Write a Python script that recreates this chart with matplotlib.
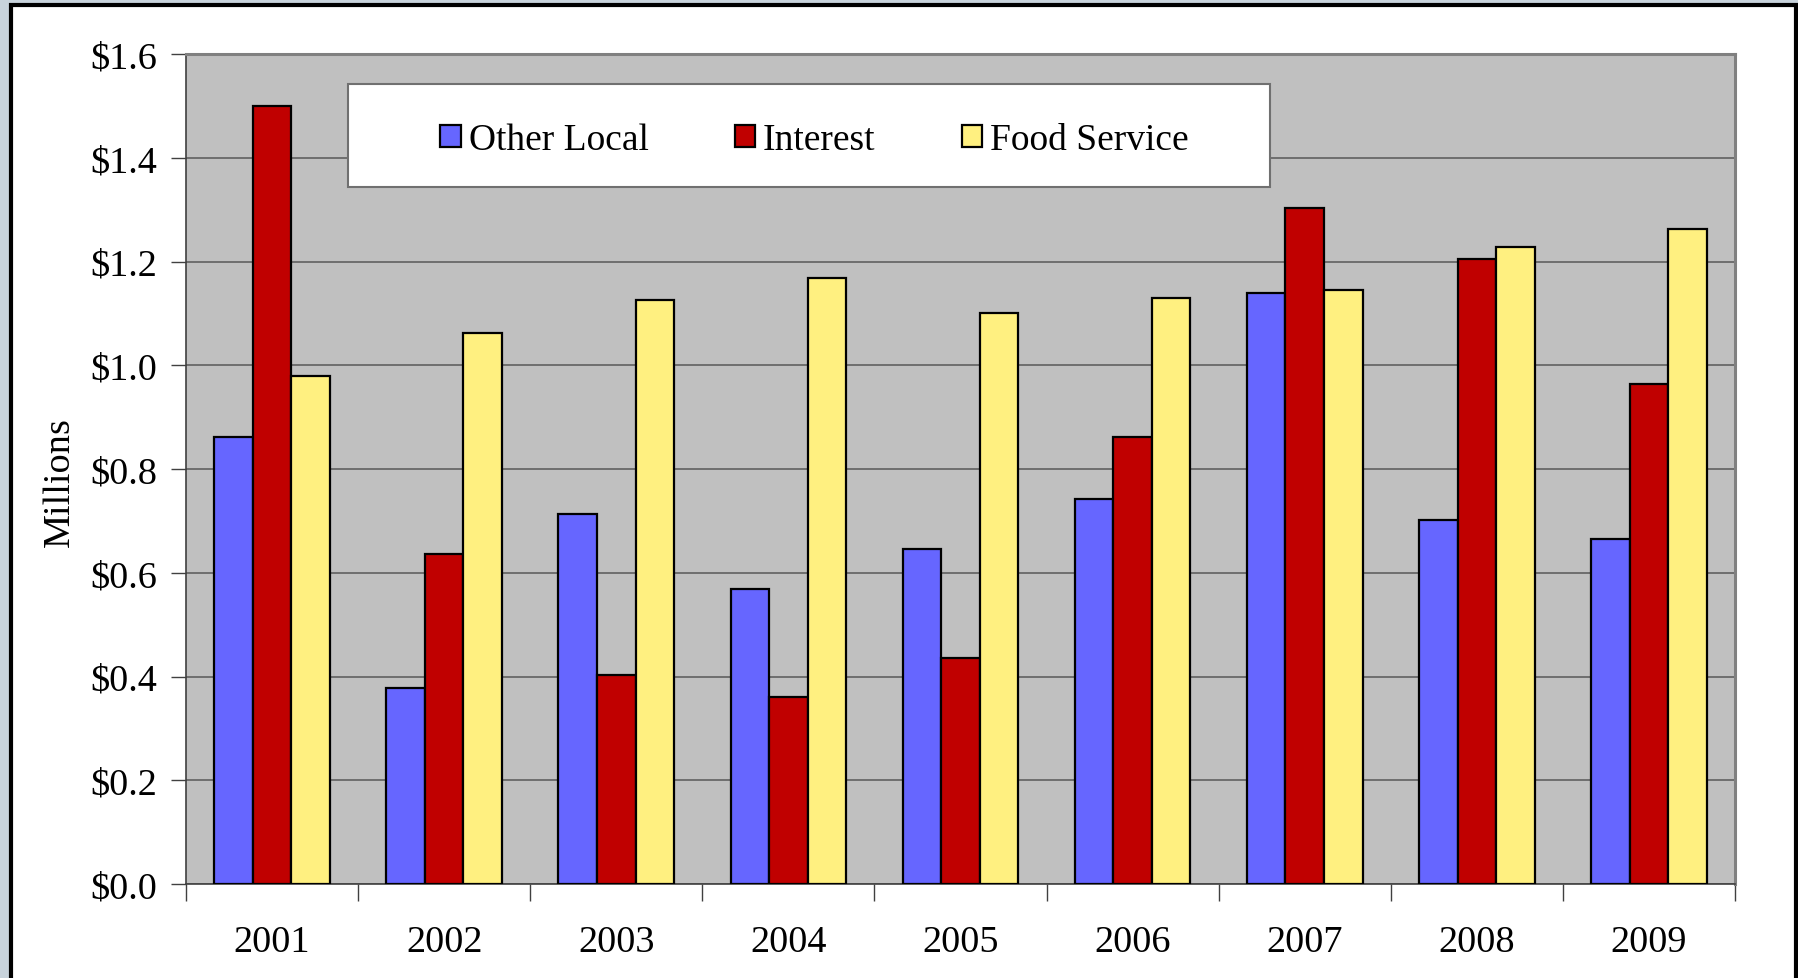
import matplotlib
matplotlib.use("Agg")
import matplotlib.pyplot as plt
from matplotlib.patches import Rectangle
import numpy as np

years = ["2001", "2002", "2003", "2004", "2005", "2006", "2007", "2008", "2009"]
other_local = [0.862, 0.378, 0.714, 0.568, 0.645, 0.743, 1.140, 0.701, 0.665]
interest = [1.500, 0.636, 0.402, 0.360, 0.435, 0.862, 1.304, 1.204, 0.964]
food_service = [0.979, 1.063, 1.125, 1.169, 1.100, 1.129, 1.145, 1.227, 1.262]
series_names = ["Other Local", "Interest", "Food Service"]
colors = ["#6666ff", "#c00000", "#fff080"]
yticks = [0.0, 0.2, 0.4, 0.6, 0.8, 1.0, 1.2, 1.4, 1.6]

plt.rcParams['font.family'] = ['Liberation Serif', 'DejaVu Serif']

W, H = 1799, 979
fig = plt.figure(figsize=(W / 100, H / 100), dpi=100)
fig.patch.set_facecolor("#c8d3dc")
fig.patches.append(Rectangle((11 / W, -0.05), (1796 - 11) / W, (H - 6) / H + 0.05,
                             transform=fig.transFigure, facecolor="white",
                             edgecolor="black", linewidth=3, zorder=-5))

ax = fig.add_axes([186 / W, (H - 885) / H, (1735 - 186) / W, (885 - 55) / H])
ax.set_zorder(1)
ax.set_facecolor("#c0c0c0")

x = np.arange(len(years))
bw = 0.224
for i, (vals, name, c) in enumerate(zip([other_local, interest, food_service], series_names, colors)):
    ax.bar(x + (i - 1) * bw, vals, width=bw, color=c, edgecolor="black",
           linewidth=1.6, label=name, zorder=3)

ax.set_xlim(-0.5, len(years) - 0.5)
ax.set_ylim(0, 1.6)
ax.set_yticks(yticks)
ax.set_yticklabels([f"${v:.1f}" for v in yticks], fontsize=27.5)
ax.yaxis.grid(True, color="#606060", linewidth=1.2, zorder=1)
ax.set_axisbelow(True)

ax.set_xticks(np.arange(-0.5, len(years), 1.0))
ax.set_xticklabels([])
ax.set_xticks(x, minor=True)
ax.set_xticklabels(years, minor=True, fontsize=27.5)
ax.tick_params(axis='x', which='major', length=12, width=1, color="#404040", direction='out')
ax.tick_params(axis='x', which='minor', length=0, pad=29)
ax.tick_params(axis='y', length=11, width=1, color="#404040", direction='out', pad=10)

for s in ["top", "right"]:
    ax.spines[s].set_color("#808080")
    ax.spines[s].set_linewidth(2.2)
for s in ["left", "bottom"]:
    ax.spines[s].set_color("#404040")
    ax.spines[s].set_linewidth(1.2)

ax.set_ylabel("Millions", fontsize=27.5)
ax.yaxis.set_label_coords(-0.0705, 0.485)

# legend box
lx0, lx1, ly0, ly1 = 348, 1270, 85, 188
fig.patches.append(Rectangle((lx0 / W, (H - ly1) / H), (lx1 - lx0) / W, (ly1 - ly0) / H,
                             transform=fig.transFigure, facecolor="white",
                             edgecolor="#707070", linewidth=1.5, zorder=5))
leg = fig.legend(loc="center", bbox_to_anchor=((lx0 + lx1) / 2 / W + 0.003, (H - 141) / H),
                 ncol=3, frameon=False, fontsize=27, handlelength=0.55, handleheight=0.55,
                 handletextpad=0.2, columnspacing=2.3)
leg.set_zorder(6)
for h in leg.legend_handles:
    h.set_linewidth(1.6)

fig.savefig("out.png", dpi=100, facecolor=fig.get_facecolor())
